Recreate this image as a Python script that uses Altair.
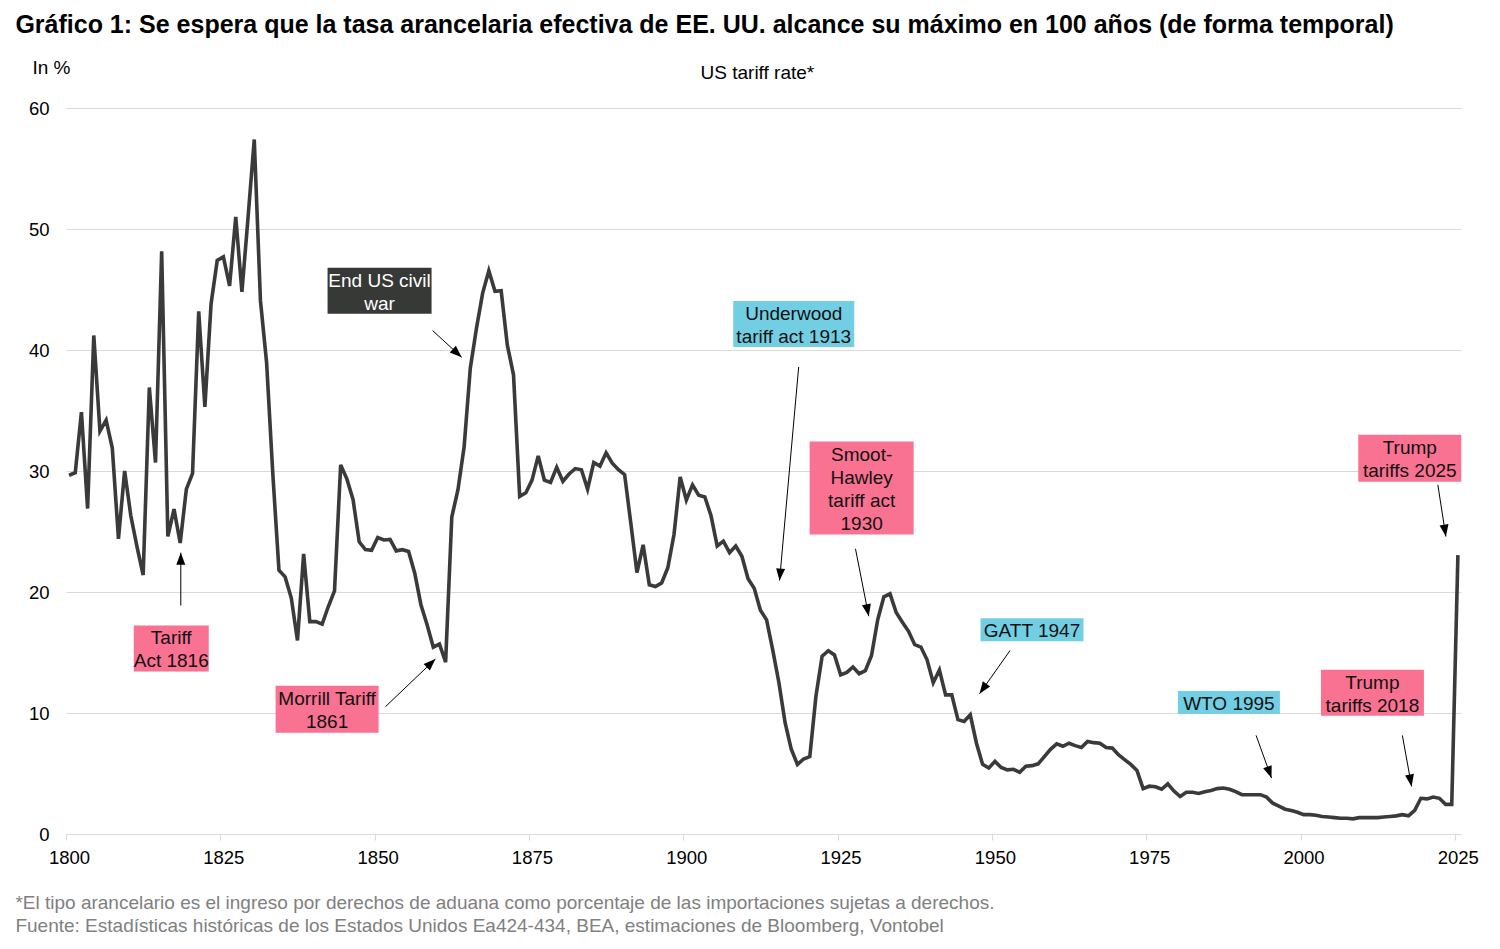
import math
import altair as alt
import pandas as pd

# US effective tariff rate, in %, one value per year 1800..2025
years = list(range(1800, 2026))
tariff_rate = [
    29.65, 29.86, 34.87, 26.9, 41.2, 33.3, 34.2, 31.9, 24.4, 30.0,      # 1800s
    26.3, 23.75, 21.4, 36.9, 30.7, 48.15, 24.6, 26.85, 24.05, 28.5,     # 1810s
    29.8, 43.2, 35.3, 43.8, 47.4, 47.7, 45.3, 51.0, 44.8, 51.0,         # 1820s
    57.4, 44.1, 38.95, 29.8, 21.8, 21.25, 19.5, 16.0, 23.15, 17.55,     # 1830s
    17.55, 17.35, 18.8, 20.1, 30.5, 29.35, 27.65, 24.15, 23.5, 23.45,   # 1840s
    24.5, 24.3, 24.35, 23.4, 23.5, 23.35, 21.55, 18.95, 17.3, 15.45,    # 1850s
    15.7, 14.2, 26.2, 28.45, 32.0, 38.5, 41.8, 44.7, 46.55, 44.85,      # 1860s
    44.9, 40.4, 37.95, 27.9, 28.2, 29.25, 31.25, 29.25, 29.05, 30.3,    # 1870s
    29.15, 29.75, 30.2, 30.1, 28.5, 30.7, 30.4, 31.5, 30.65, 30.1,      # 1880s
    29.7, 25.7, 21.6, 23.9, 20.6, 20.45, 20.75, 22.0, 24.75, 29.5,      # 1890s
    27.6, 28.85, 28.0, 27.85, 26.3, 23.8, 24.2, 23.25, 23.8, 22.95,     # 1900s
    21.1, 20.3, 18.5, 17.7, 15.2, 12.5, 9.2, 7.0, 5.75, 6.2,            # 1910s
    6.4, 11.4, 14.7, 15.15, 14.8, 13.15, 13.35, 13.8, 13.25, 13.5,      # 1920s
    14.75, 17.7, 19.6, 19.85, 18.3, 17.5, 16.75, 15.65, 15.45, 14.4,    # 1930s
    12.5, 13.55, 11.5, 11.5, 9.45, 9.3, 9.85, 7.5, 5.75, 5.45,          # 1940s
    6.0, 5.5, 5.3, 5.35, 5.1, 5.6, 5.65, 5.8, 6.4, 7.0,                 # 1950s
    7.45, 7.25, 7.5, 7.3, 7.15, 7.65, 7.55, 7.5, 7.15, 7.1,             # 1960s
    6.55, 6.15, 5.75, 5.25, 3.75, 3.95, 3.9, 3.7, 4.15, 3.55,           # 1970s
    3.1, 3.45, 3.45, 3.35, 3.5, 3.6, 3.75, 3.8, 3.7, 3.5,               # 1980s
    3.25, 3.25, 3.25, 3.25, 3.05, 2.55, 2.3, 2.05, 1.95, 1.8,           # 1990s
    1.6, 1.6, 1.55, 1.45, 1.4, 1.35, 1.3, 1.3, 1.25, 1.35,              # 2000s
    1.35, 1.35, 1.35, 1.4, 1.45, 1.5, 1.6, 1.5, 1.95, 2.95,             # 2010s
    2.9, 3.05, 2.95, 2.45, 2.45, 23.05,                                 # 2020s
]
assert len(years) == len(tariff_rate)

x_ticks = [1800, 1825, 1850, 1875, 1900, 1925, 1950, 1975, 2000, 2025]
y_ticks = [0, 10, 20, 30, 40, 50, 60]

# annotations: label, box centre (year, %), box size px, colour, arrow tail -> head (year, %)
ann_labels = ["End US civil\nwar", "Underwood\ntariff act 1913", "Smoot-\nHawley\ntariff act\n1930",
              "Trump\ntariffs 2025", "Tariff\nAct 1816", "Morrill Tariff\n1861", "GATT 1947",
              "WTO 1995", "Trump\ntariffs 2018"]
ann_year = [1850.8, 1917.9, 1928.9, 2017.7, 1817.05, 1842.3, 1956.5, 1988.4, 2011.65]
ann_val = [44.9, 42.15, 28.6, 31.06, 15.34, 10.31, 16.88, 10.86, 11.67]
ann_w = [104, 121, 104, 103, 75, 103, 103, 102, 103]
ann_h = [46, 46, 93, 47, 46, 47, 23, 23, 46]
ann_fill = ["#363936", "#72cee2", "#f97292", "#f97292", "#f97292", "#f97292", "#72cee2", "#72cee2", "#f97292"]
ann_ink = ["#ffffff", "#111111", "#111111", "#111111", "#111111", "#111111", "#111111", "#111111", "#111111"]
tail_year = [1859.4, 1918.7, 1927.9, 2022.25, 1818.6, 1851.75, 1952.95, 1992.8, 2016.5]
tail_val = [41.6, 38.6, 23.57, 28.86, 18.88, 10.52, 15.17, 8.15, 8.15]
head_year = [1864.1, 1915.6, 1930.05, 2023.55, 1818.6, 1859.85, 1948.0, 1995.3, 2018.0]
head_val = [39.4, 20.95, 18.0, 24.58, 23.25, 14.46, 11.59, 4.63, 3.93]

W, H = 1395, 726
X0, X1 = 1800, 2026
PX_YEAR = W / (X1 - X0)
PX_UNIT = H / 60
LINE_H = 23
FONT = "Liberation Sans"

line_df = pd.DataFrame({"year": years, "rate": tariff_rate})
line_df["xpos"] = line_df["year"] + 0.5  # each year sits in the middle of its slot

ann = pd.DataFrame({
    "label": ann_labels, "yr": ann_year, "val": ann_val, "fill": ann_fill, "ink": ann_ink,
    "tx": tail_year, "ty": tail_val, "hx": head_year, "hy": head_val,
})
ann["x0"] = ann["yr"] - pd.Series(ann_w) / 2 / PX_YEAR
ann["x1"] = ann["yr"] + pd.Series(ann_w) / 2 / PX_YEAR
ann["y0"] = ann["val"] - pd.Series(ann_h) / 2 / PX_UNIT
ann["y1"] = ann["val"] + pd.Series(ann_h) / 2 / PX_UNIT
# first line of a multi-line label goes above the box centre
ann["text_y"] = [v + (lab.count("\n")) * LINE_H / 2 / PX_UNIT for v, lab in zip(ann_val, ann_labels)]
ann["angle"] = [
    math.degrees(math.atan2((hx - tx) * PX_YEAR, (hy - ty) * PX_UNIT)) % 360
    for tx, ty, hx, hy in zip(tail_year, tail_val, head_year, head_val)
]

xs = alt.Scale(domain=[X0, X1], nice=False, zero=False)
ys = alt.Scale(domain=[0, 60], nice=False)

line = alt.Chart(line_df).mark_line(color="#3a3a3a", strokeWidth=3.6).encode(
    x=alt.X("xpos:Q", scale=xs, axis=alt.Axis(
        values=x_ticks, format="d", title=None, grid=False, domainColor="#d9d9d9",
        tickColor="#d9d9d9", tickSize=6, labelPadding=8, labelFontSize=18.5,
        labelFont=FONT, labelColor="#000000", labelFlush=False, labelOffset=3)),
    y=alt.Y("rate:Q", scale=ys, axis=alt.Axis(
        values=y_ticks, title=None, domain=False, ticks=False, gridColor="#d9d9d9",
        labelPadding=17, labelFontSize=18.5, labelFont=FONT, labelColor="#000000")),
)

boxes = alt.Chart(ann).mark_rect().encode(
    x=alt.X("x0:Q", scale=xs), x2="x1", y=alt.Y("y0:Q", scale=ys), y2="y1",
    color=alt.Color("fill:N", scale=None),
)
box_text = alt.Chart(ann).mark_text(font=FONT, fontSize=19, lineBreak="\n", lineHeight=LINE_H,
                                    baseline="middle", dy=1.5).encode(
    x=alt.X("yr:Q", scale=xs), y=alt.Y("text_y:Q", scale=ys), text="label:N",
    color=alt.Color("ink:N", scale=None),
)
arrows = alt.Chart(ann).mark_rule(color="#000000", strokeWidth=1).encode(
    x=alt.X("tx:Q", scale=xs), y=alt.Y("ty:Q", scale=ys), x2="hx", y2="hy",
)
heads = alt.Chart(ann).mark_point(shape="M0,0L0.45,1.2L-0.45,1.2Z", size=400, filled=True,
                                  color="#000000", opacity=1).encode(
    x=alt.X("hx:Q", scale=xs), y=alt.Y("hy:Q", scale=ys),
    angle=alt.Angle("angle:Q", scale=None),
)

# free texts placed in pixels relative to the plot area
texts = pd.DataFrame({
    "text": [
        "Gráfico 1: Se espera que la tasa arancelaria efectiva de EE. UU. alcance su máximo en 100 años (de forma temporal)",
        "In %",
        "US tariff rate*",
        "*El tipo arancelario es el ingreso por derechos de aduana como porcentaje de las importaciones sujetas a derechos.",
        "Fuente: Estadísticas históricas de los Estados Unidos Ea424-434, BEA, estimaciones de Bloomberg, Vontobel",
    ],
    "px": [-50.6, -33.6, 691.4, -50.6, -50.6],
    "py": [-83, -40, -35, 795, 818],
    "size": [25, 19, 19, 19, 19],
    "weight": ["bold", "normal", "normal", "normal", "normal"],
    "align": ["left", "left", "center", "left", "left"],
    "ink": ["#000000", "#000000", "#000000", "#808080", "#808080"],
})
free_text = alt.layer(*[
    alt.Chart(texts.iloc[[i]]).mark_text(font=FONT, baseline="middle", align=row.align,
                                         fontSize=row.size, fontWeight=row.weight).encode(
        x=alt.X("px:Q", scale=None), y=alt.Y("py:Q", scale=None), text="text:N",
        color=alt.Color("ink:N", scale=None),
    )
    for i, row in enumerate(texts.itertuples())
])

chart = alt.layer(line, arrows, heads, boxes, box_text, free_text).properties(
    width=W, height=H,
    background="#ffffff",
    autosize=alt.AutoSizeParams(type="none"),
    padding={"left": 58, "top": 100, "right": 31, "bottom": 107},
).configure_view(stroke=None)

chart.save("out.html", embed_options={"renderer": "svg", "actions": False})
